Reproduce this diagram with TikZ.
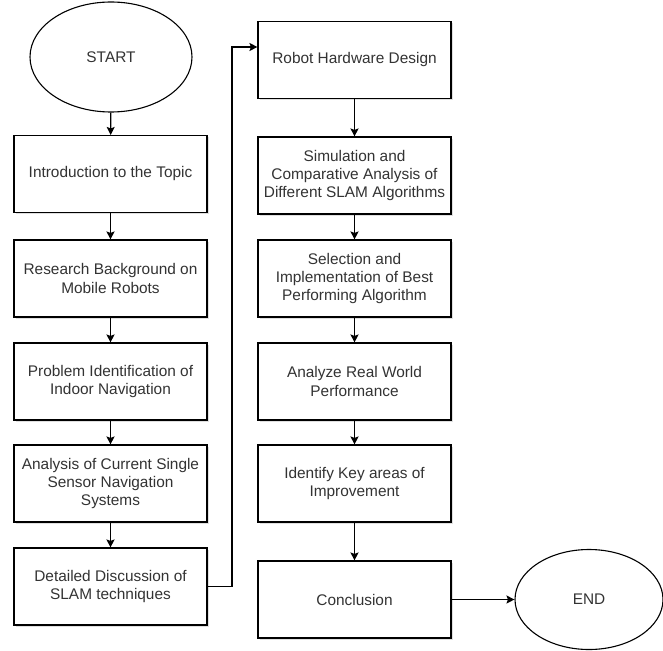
\documentclass[tikz,border=0pt]{standalone}
\usepackage{fontspec}
\setmainfont{Liberation Sans}
\usepackage{tikz}
\usetikzlibrary{arrows.meta,positioning,shapes.geometric,shadows}
\definecolor{tx}{RGB}{51,51,51}

\begin{document}
\begin{tikzpicture}[x=1pt,y=-1pt,
    box/.style={draw,line width=1.1pt,fill=white,minimum width=193pt,minimum height=77pt,
      align=center,inner sep=0pt,font=\fontsize{15.4}{18.4}\selectfont,text=tx,
      drop shadow={shadow xshift=1.5pt,shadow yshift=-1.5pt,opacity=0.25}},
    term/.style={draw,line width=1.1pt,fill=white,ellipse,inner sep=0pt,
      font=\fontsize{15.4}{18.4}\selectfont,text=tx},
    arr/.style={-{Stealth[length=8pt,width=8pt,inset=1.5pt]},line width=1.1pt}]
  \useasboundingbox (0,0) rectangle (663,650);

  % left
  \node[term,minimum width=162pt,minimum height=110pt] (start) at (111,57) {START};
  \node[box] (intro) at (110.5,174) {Introduction to the Topic};
  \node[box] (res) at (110.5,278.5) {Research Background on\\Mobile Robots};
  \node[box] (prob) at (110.5,381.5) {Problem Identification of\\Indoor Navigation};
  \node[box] (ana) at (110.5,483.5) {Analysis of Current Single\\Sensor Navigation\\Systems};
  \node[box] (det) at (110.5,586.5) {Detailed Discussion of\\SLAM techniques};

  % right
  \node[box] (rob) at (354.5,60) {Robot Hardware Design};
  \node[box] (sim) at (354.5,175.5) {Simulation and\\Comparative Analysis of\\Different SLAM Algorithms};
  \node[box] (sel) at (354.5,278.5) {Selection and\\Implementation of Best\\Performing Algorithm};
  \node[box] (real) at (354.5,381.5) {Analyze Real World\\Performance};
  \node[box] (key) at (354.5,483.5) {Identify Key areas of\\Improvement};
  \node[box] (concl) at (354.5,599.5) {Conclusion};
  \node[term,minimum width=148pt,minimum height=100pt] (end) at (589,599.5) {END};

  \draw[arr] (start) -- (intro);
  \draw[arr] (intro) -- (res);
  \draw[arr] (res) -- (prob);
  \draw[arr] (prob) -- (ana);
  \draw[arr] (ana) -- (det);

  \coordinate (jog) at (232,47);
  \draw[arr] (det.east) -| (jog) -- (rob.west |- jog);

  \draw[arr] (rob) -- (sim);
  \draw[arr] (sim) -- (sel);
  \draw[arr] (sel) -- (real);
  \draw[arr] (real) -- (key);
  \draw[arr] (key) -- (concl);
  \draw[arr] (concl) -- (end);
\end{tikzpicture}
\end{document}
